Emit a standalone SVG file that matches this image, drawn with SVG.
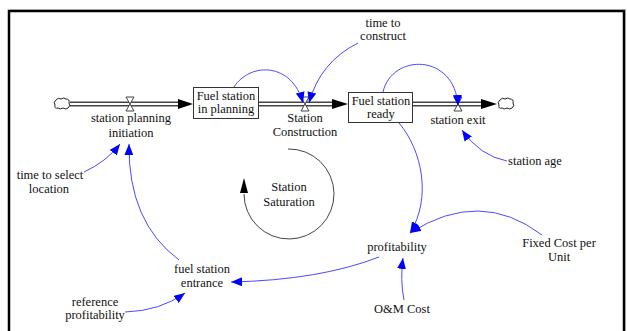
<svg xmlns="http://www.w3.org/2000/svg" width="627" height="331" viewBox="0 0 627 331">
<defs>
<marker id="ba" markerUnits="userSpaceOnUse" markerWidth="11" markerHeight="9" refX="11" refY="4.5" orient="auto"><path d="M0,0 L11,4.5 L0,9 Z" fill="#0000FF"/></marker>
</defs>
<style>
.t{font-family:"Liberation Serif",serif;font-size:12.5px;fill:#111;text-anchor:middle}
.box{fill:#fff;stroke:#333;stroke-width:1}
.pipeo{stroke:#444;stroke-width:5;fill:none}
.pipei{stroke:#fff;stroke-width:2;fill:none}
.link{fill:none;stroke:#4a4aff;stroke-width:1;marker-end:url(#ba)}
.valve{fill:#fff;stroke:#444;stroke-width:1}
.cloud{fill:#fff;stroke:#222;stroke-width:1}
</style>
<rect width="627" height="331" fill="#fff"/>
<g id="frame" fill="none">
<path d="M9,331 V11 H624 V331" stroke="#000" stroke-width="2.5"/>
<path d="M9,9.5 H625.5 V331" stroke="#999" stroke-width="0.8"/>
</g>
<g id="pipes">
<path class="pipeo" d="M70,104 H180"/><path class="pipei" d="M70,104 H181"/>
<polygon points="178,99 193,104 178,109" fill="#000"/>
<path class="pipeo" d="M258,104 H335"/><path class="pipei" d="M258,104 H336"/>
<polygon points="332,99 348,104 332,109" fill="#000"/>
<path class="pipeo" d="M413,104 H484"/><path class="pipei" d="M413,104 H485"/>
<polygon points="481,99 497,104 481,109" fill="#000"/>
</g>
<g font-family="Liberation Serif, serif" class="t">
<g id="loop-station-saturation">
<path d="M288,149 A45,45 0 1 1 244,194" fill="none" stroke="#444" stroke-width="1"/>
<polygon points="244,178 240,193 248,193" fill="#000"/>
<text class="t" x="289" y="191">Station</text>
<text class="t" x="289" y="206">Saturation</text>
</g>
<g id="cloud-source"><path class="cloud" d="M56,100 q2,-3 5,-1 q3,-2 5,0 q4,0 3,4 q2,3 -1,5 q-2,2 -5,0 q-3,2 -5,0 q-4,1 -3,-3 q-2,-3 1,-5 z"/></g>
<g id="cloud-sink"><path class="cloud" d="M500,100 q2,-3 5,-1 q3,-2 5,0 q4,0 3,4 q2,3 -1,5 q-2,2 -5,0 q-3,2 -5,0 q-4,1 -3,-3 q-2,-3 1,-5 z"/></g>
<g id="station-planning-initiation">
<path class="valve" d="M126,97 H134 L126,111 H134 Z"/>
<text class="t" x="131" y="122">station planning</text>
<text class="t" x="131" y="137">initiation</text>
</g>
<g id="fuel-station-in-planning">
<rect class="box" x="193.5" y="87.5" width="65" height="31"/>
<text class="t" x="226" y="100">Fuel station</text>
<text class="t" x="226" y="113">in planning</text>
</g>
<g id="station-construction">
<path class="valve" d="M301,97 H309 L301,111 H309 Z"/>
<text class="t" x="305" y="122">Station</text>
<text class="t" x="305" y="136">Construction</text>
</g>
<g id="fuel-station-ready">
<rect class="box" x="348.5" y="92.5" width="64" height="30"/>
<text class="t" x="381" y="105">Fuel station</text>
<text class="t" x="381" y="118">ready</text>
</g>
<g id="station-exit">
<path class="valve" d="M454,97 H462 L454,111 H462 Z"/>
<text class="t" x="458" y="124">station exit</text>
</g>
<g id="time-to-construct"><text class="t" x="383" y="27">time to</text><text class="t" x="383" y="40">construct</text></g>
<g id="station-age"><text class="t" x="535" y="165">station age</text></g>
<g id="time-to-select-location"><text class="t" x="50" y="179">time to select</text><text class="t" x="49" y="193">location</text></g>
<g id="fuel-station-entrance"><text class="t" x="202" y="273">fuel station</text><text class="t" x="202" y="287">entrance</text></g>
<g id="reference-profitability"><text class="t" x="95" y="306">reference</text><text class="t" x="95" y="319">profitability</text></g>
<g id="profitability"><text class="t" x="397" y="251">profitability</text></g>
<g id="fixed-cost-per-unit"><text class="t" x="559" y="247">Fixed Cost per</text><text class="t" x="559" y="261">Unit</text></g>
<g id="om-cost"><text class="t" x="402" y="313">O&amp;M Cost</text></g>
</g>
<g id="connectors">
<path class="link" d="M84,172 Q106,162 120,144"/>
<path class="link" d="M179,260 Q128,222 129,144"/>
<path class="link" d="M125,312 Q160,311 185,293"/>
<path class="link" d="M379,257 Q320,280 231,282"/>
<path class="link" d="M542,235 Q480,188 410,233"/>
<path class="link" d="M404,300 Q400,280 403,258"/>
<path class="link" d="M399,123 C422,150 432,198 410,233"/>
<path class="link" d="M234,87 C250,62 292,62 303,103"/>
<path class="link" d="M358,43 Q320,62 309,103"/>
<path class="link" d="M383,92 C392,53 455,53 458,106"/>
<path class="link" d="M507,161 Q480,156 462,130"/>
</g>
</svg>
